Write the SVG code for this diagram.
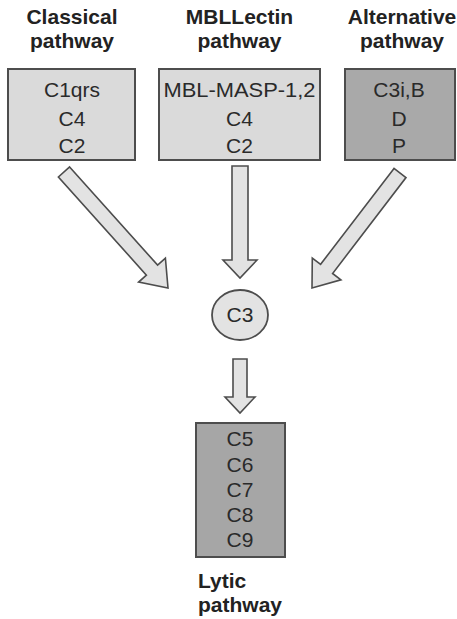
<svg xmlns="http://www.w3.org/2000/svg" width="457" height="619" viewBox="0 0 457 619">
<style>
.hdr{font-family:"Liberation Sans",Arial,sans-serif;font-weight:bold;font-size:21px;fill:#222;text-anchor:middle}
.lbl{font-family:"Liberation Sans",Arial,sans-serif;font-size:21px;fill:#2a2a2a;text-anchor:middle}
.box{stroke:#4d4d4d;stroke-width:2}
.arr{fill:#e3e3e3;stroke:#4d4d4d;stroke-width:1.6;stroke-linejoin:miter}
</style>
<rect width="457" height="619" fill="#fff"/>
<g id="classical">
<text class="hdr" x="72" y="24">Classical</text>
<text class="hdr" x="72" y="48">pathway</text>
<rect class="box" x="8" y="69" width="127" height="91" fill="#dadada"/>
<text class="lbl" x="72" y="97">C1qrs</text>
<text class="lbl" x="72" y="126">C4</text>
<text class="lbl" x="72" y="153">C2</text>
</g>
<g id="mbllectin">
<text class="hdr" x="239.5" y="24">MBLLectin</text>
<text class="hdr" x="239.5" y="48">pathway</text>
<rect class="box" x="159" y="69" width="161" height="91" fill="#dadada"/>
<text class="lbl" x="239.5" y="97" textLength="152" lengthAdjust="spacingAndGlyphs">MBL-MASP-1,2</text>
<text class="lbl" x="239.5" y="126">C4</text>
<text class="lbl" x="239.5" y="153">C2</text>
</g>
<g id="alternative">
<text class="hdr" x="402" y="24">Alternative</text>
<text class="hdr" x="402" y="48">pathway</text>
<rect class="box" x="345" y="69" width="110" height="91" fill="#a9a9a9"/>
<text class="lbl" x="399" y="97">C3i,B</text>
<text class="lbl" x="399" y="126">D</text>
<text class="lbl" x="399" y="153">P</text>
</g>
<g id="c3">
<ellipse cx="240" cy="315" rx="28" ry="25" fill="#e3e3e3" stroke="#4d4d4d" stroke-width="1.8"/>
<text class="lbl" x="240" y="322">C3</text>
</g>
<g id="lytic">
<rect class="box" x="196" y="423" width="89" height="134" fill="#a6a6a6"/>
<text class="lbl" x="240" y="446">C5</text>
<text class="lbl" x="240" y="472">C6</text>
<text class="lbl" x="240" y="497">C7</text>
<text class="lbl" x="240" y="522">C8</text>
<text class="lbl" x="240" y="547">C9</text>
<text class="hdr" x="198" y="588" style="text-anchor:start">Lytic</text>
<text class="hdr" x="198" y="612" style="text-anchor:start">pathway</text>
</g>
<g id="connectors">
<polygon class="arr" points="69.6,167 157.6,265.1 165.4,258.1 168,288 138.6,282.1 146.4,275.1 58.4,177"/>
<polygon class="arr" points="232,166 248,166 248,260 257,260 240,278 223,260 232,260"/>
<polygon class="arr" points="394,168.4 320.6,264.3 312.3,258 312,288 340.9,279.8 332.6,273.5 406,177.6"/>
<polygon class="arr" points="233,359 247,359 247,397 255,397 240,413 225,397 233,397"/>
</g>
</svg>
